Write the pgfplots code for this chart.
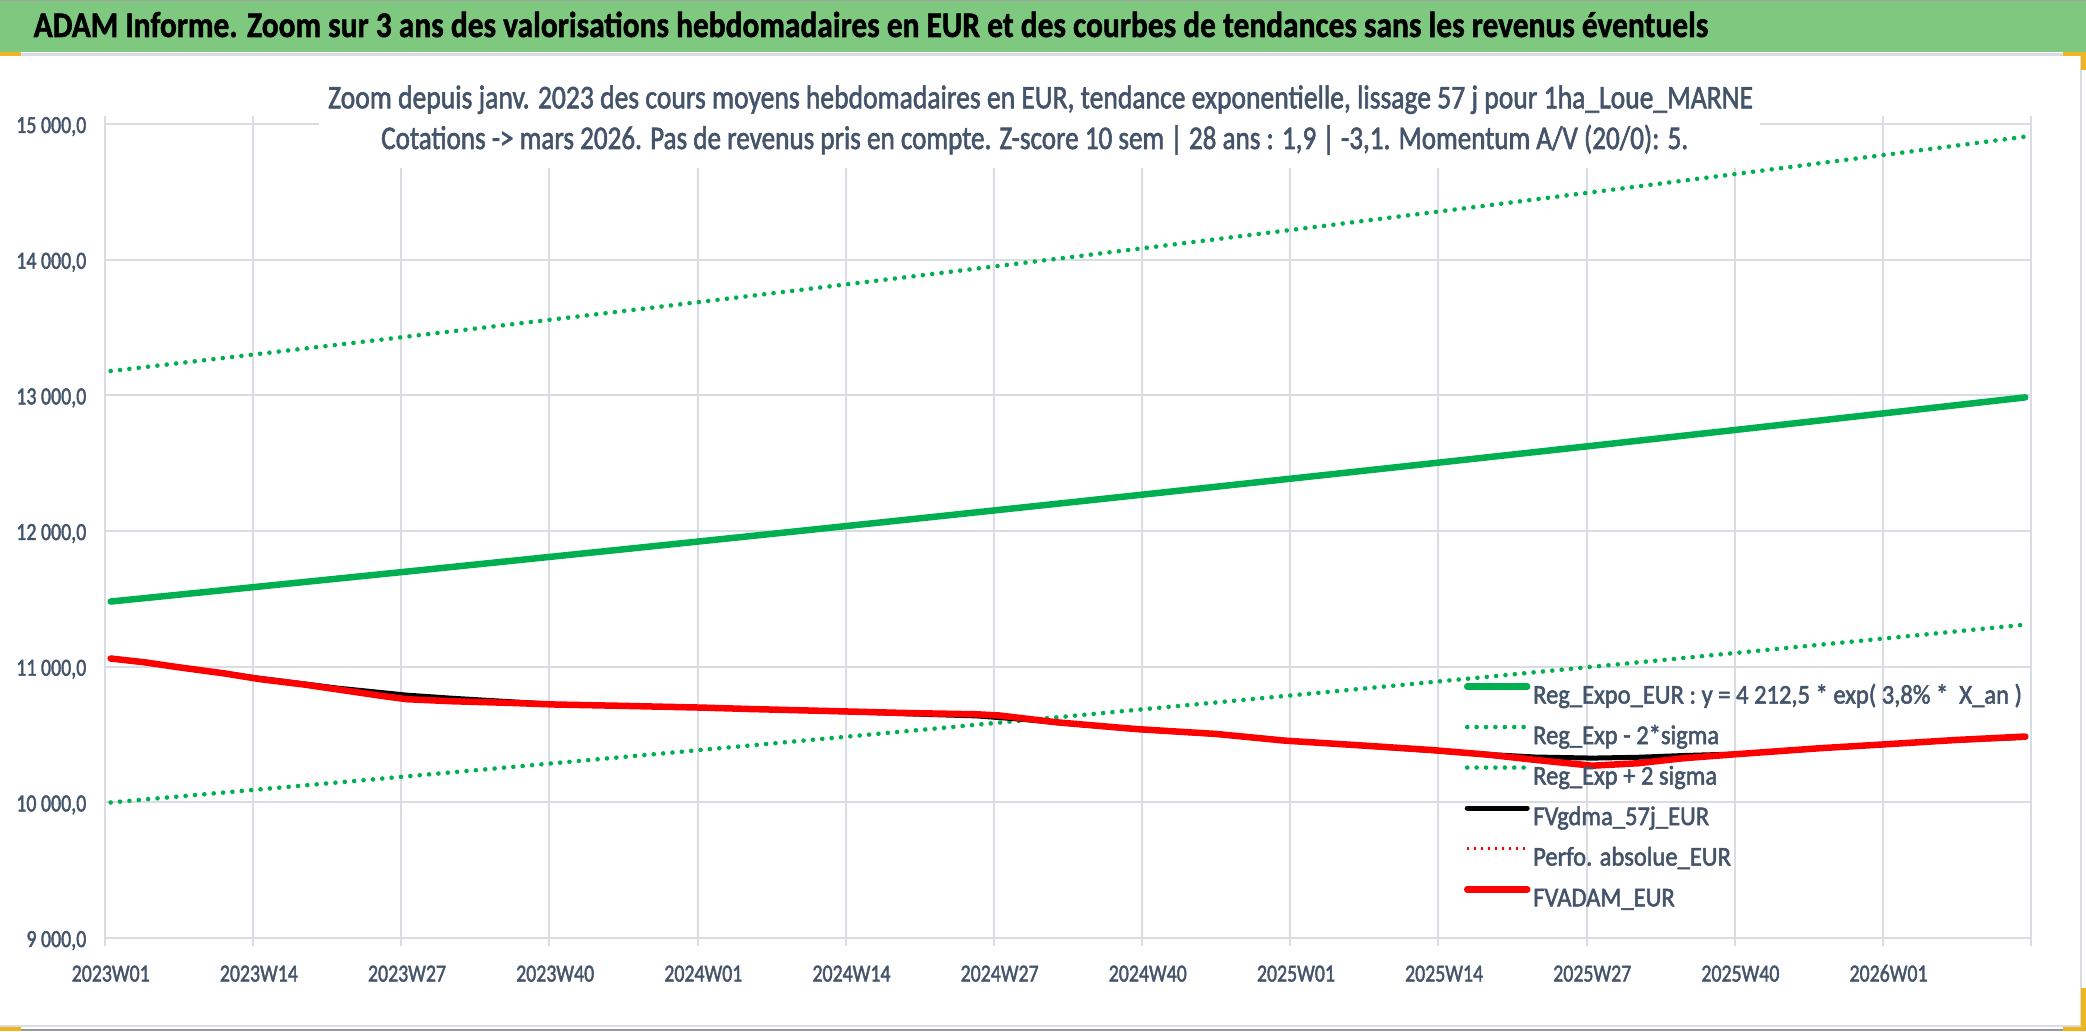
\documentclass[border=0pt]{standalone}
\usepackage{pgfplots}
\pgfplotsset{compat=1.18}
\usepackage{fontspec}
\setmainfont{Carlito}
\newfontfamily\heavy{Carlito}[FakeBold=2]
\newfontfamily\heavybf{Carlito Bold}[FakeBold=1.5]
\usepackage{graphicx}
\definecolor{txt}{RGB}{68,84,106}
\definecolor{gridc}{RGB}{217,221,227}
\definecolor{xlgreen}{RGB}{0,176,80}
\definecolor{barg}{RGB}{127,200,127}
\definecolor{selc}{RGB}{240,180,30}
\newsavebox\mybox
\newcommand\fitto[2]{\sbox\mybox{#2}\pgfmathsetmacro\fitf{#1/\the\wd\mybox}\scalebox{\fitf}[1]{\usebox\mybox}}
\newcommand\tickfont{\heavy\fontsize{24.5}{24.5}\selectfont}
\newcommand\legfont{\heavy\fontsize{27}{27}\selectfont}
\sbox\mybox{\tickfont 2023W01}\pgfmathsetmacro\tmpf{78/\the\wd\mybox}\xdef\xtf{\tmpf}
\sbox\mybox{\tickfont 10 000,0}\pgfmathsetmacro\tmpf{70/\the\wd\mybox}\xdef\ytf{\tmpf}
\sbox\mybox{\legfont Reg\_Exp - 2*sigma}\pgfmathsetmacro\tmpf{186/\the\wd\mybox}\xdef\lgf{\tmpf}
\newcommand\xs[1]{\scalebox{\xtf}[1]{#1}}
\newcommand\ys[1]{\scalebox{\ytf}[1]{#1}}
\newcommand\ls[1]{\scalebox{\lgf}[1]{#1}}
\begin{document}
\begin{tikzpicture}
\useasboundingbox (0pt,0pt) rectangle (2086pt,1031pt);
\fill[white] (0pt,0pt) rectangle (2086pt,1031pt);
\fill[barg] (0pt,979pt) rectangle (2086pt,1031pt);
\draw[gray!70, line width=1.5pt] (0pt,1030.3pt) -- (2086pt,1030.3pt);
\draw[gridc, line width=3pt] (0pt,976.5pt) -- (2086pt,976.5pt);
\draw[gridc, line width=2pt] (2081pt,0pt) -- (2081pt,976pt);
\draw[gridc, line width=2pt] (0pt,5pt) -- (2086pt,5pt);
\draw[gray!80, line width=1.5pt] (0pt,0.8pt) -- (2086pt,0.8pt);
\begin{axis}[
  at={(105pt,93pt)}, anchor=south west, scale only axis,
  width=1926pt, height=814pt,
  xmin=-0.5, xmax=168.5, ymin=9000, ymax=15000,
  scaled y ticks=false, scaled x ticks=false,
  xtick={-0.5,12.5,25.5,38.5,51.5,64.5,77.5,90.5,103.5,116.5,129.5,142.5,155.5,168.5},
  xticklabels={\xs{2023W01},\xs{2023W14},\xs{2023W27},\xs{2023W40},\xs{2024W01},\xs{2024W14},\xs{2024W27},\xs{2024W40},\xs{2025W01},\xs{2025W14},\xs{2025W27},\xs{2025W40},\xs{2026W01},{}},
  ytick={9000,10000,11000,12000,13000,14000,15000},
  yticklabels={{\ys{9 000,0}},{\ys{10 000,0}},{\ys{11 000,0}},{\ys{12 000,0}},{\ys{13 000,0}},{\ys{14 000,0}},{\ys{15 000,0}}},
  grid=major, major grid style={draw=gridc, line width=2pt},
  axis line style={draw=gridc, line width=2pt},
  tick align=outside, major tick length=7.5pt,
  xtick style={draw=gridc, line width=2pt}, ytick style={draw=none},
  xticklabel style={font=\tickfont, text=txt, anchor=base, inner sep=0pt, xshift=5.7pt, yshift=-36pt},
  yticklabel style={font=\tickfont, text=txt, anchor=base east, inner sep=0pt, xshift=-11pt, yshift=-9pt},
  legend style={at={(0.7056,0.3129)}, anchor=north west, draw=none, fill=none,
    inner sep=0pt, outer sep=0pt, row sep=14.5pt, font=\legfont, text=txt,
    nodes={inner sep=0pt, text height=20pt, text depth=6pt},
    /tikz/every odd column/.append style={column sep=2.7pt}},
  legend cell align=left,
  legend image code/.code={\draw[#1] (0pt,10pt) -- (60pt,10pt);},
]
\addplot[xlgreen, line width=6.5pt, line cap=round, line join=round] coordinates {
(0,11480) (12,11581.5) (24,11683.8) (36,11787.1) (48,11891.2) (60,11996.3) (72,12102.3) (84,12209.3) (96,12317.2) (108,12426.1) (120,12535.9) (132,12646.6) (144,12758.4) (156,12871.2) (168,12984.9)};
\addlegendentry{\ls{Reg\_Expo\_EUR : y = 4 212,5 * exp( 3,8\% *\ \ X\_an )}}
\addplot[xlgreen, line width=4.6pt, line cap=round, dash pattern=on 0pt off 9.4pt] coordinates {
(0,9999.1) (12,10087.5) (24,10176.6) (36,10266.6) (48,10357.2) (60,10448.8) (72,10541.1) (84,10634.3) (96,10728.3) (108,10823.1) (120,10918.8) (132,11015.2) (144,11112.6) (156,11210.8) (168,11309.8)};
\addlegendentry{\ls{Reg\_Exp - 2*sigma}}
\addplot[xlgreen, line width=4.6pt, line cap=round, dash pattern=on 0pt off 9.4pt] coordinates {
(0,13179.0) (12,13295.6) (24,13413.0) (36,13531.6) (48,13651.1) (60,13771.8) (72,13893.4) (84,14016.3) (96,14140.3) (108,14265.2) (120,14391.2) (132,14518.3) (144,14646.6) (156,14776.1) (168,14906.7)};
\addlegendentry{\ls{Reg\_Exp + 2 sigma}}
\addplot[black, line width=5pt, line cap=round, line join=round] coordinates {
(0,11062) (6,10997) (13,10915) (20,10841) (26,10790) (30,10767) (35,10742) (39,10722) (45,10711) (52,10698) (64,10670) (70,10652) (76,10637) (80,10612) (83,10588) (90,10538) (97,10502) (103,10455) (110,10416) (117,10375) (121,10352) (125,10334) (130,10326) (134,10332) (138,10345) (143,10357) (150,10399) (155,10424) (162,10458) (168,10479)};
\addlegendentry{\ls{FVgdma\_57j\_EUR}}
\addlegendimage{red, line width=2.5pt, dash pattern=on 2pt off 5pt}
\addlegendentry{\ls{Perfo. absolue\_EUR}}
\addplot[red, line width=6.5pt, line cap=round, line join=round] coordinates {
(0,11060) (3,11032) (6,10995) (10,10950) (13,10909) (17,10868) (20,10831) (24,10782) (26,10760) (30,10745) (35,10733) (39,10721) (45,10711) (52,10698) (56,10688) (64,10671) (70,10658) (76,10649) (78,10640) (83,10590) (90,10540) (97,10504) (103,10455) (110,10418) (116,10385) (121,10350) (125,10313) (130,10270) (134,10288) (138,10325) (143,10357) (150,10399) (155,10424) (162,10460) (168,10485)};
\addlegendentry{\ls{FVADAM\_EUR}}
\end{axis}
\fill[white] (319pt,863pt) rectangle (1760pt,930pt);
\node[anchor=base west, inner sep=0pt] at (33.5pt,994pt) {\fitto{1674.5}{\heavybf\fontsize{36}{36}\selectfont ADAM Informe. Zoom sur 3 ans des valorisations hebdomadaires en EUR et des courbes de tendances sans les revenus éventuels}};
\node[anchor=base west, inner sep=0pt, text=txt] at (328pt,922.7pt) {\fitto{1425}{\heavy\fontsize{33}{33}\selectfont Zoom depuis janv. 2023 des cours moyens hebdomadaires en EUR, tendance exponentielle, lissage 57 j pour 1ha\_Loue\_MARNE}};
\node[anchor=base west, inner sep=0pt, text=txt] at (381pt,882pt) {\fitto{1307}{\heavy\fontsize{33}{33}\selectfont Cotations -> mars 2026. Pas de revenus pris en compte. Z-score 10 sem | 28 ans : 1,9 | -3,1. Momentum A/V (20/0): 5.}};
\fill[selc] (0pt,975pt) rectangle (21pt,979pt);
\fill[selc] (0pt,0pt) rectangle (21pt,4pt);
\fill[selc] (2063pt,975pt) rectangle (2086pt,979pt);
\fill[selc] (2081pt,961pt) rectangle (2086pt,979pt);
\fill[selc] (2063pt,0pt) rectangle (2086pt,4pt);
\fill[selc] (2081pt,0pt) rectangle (2086pt,43pt);
\end{tikzpicture}
\end{document}
